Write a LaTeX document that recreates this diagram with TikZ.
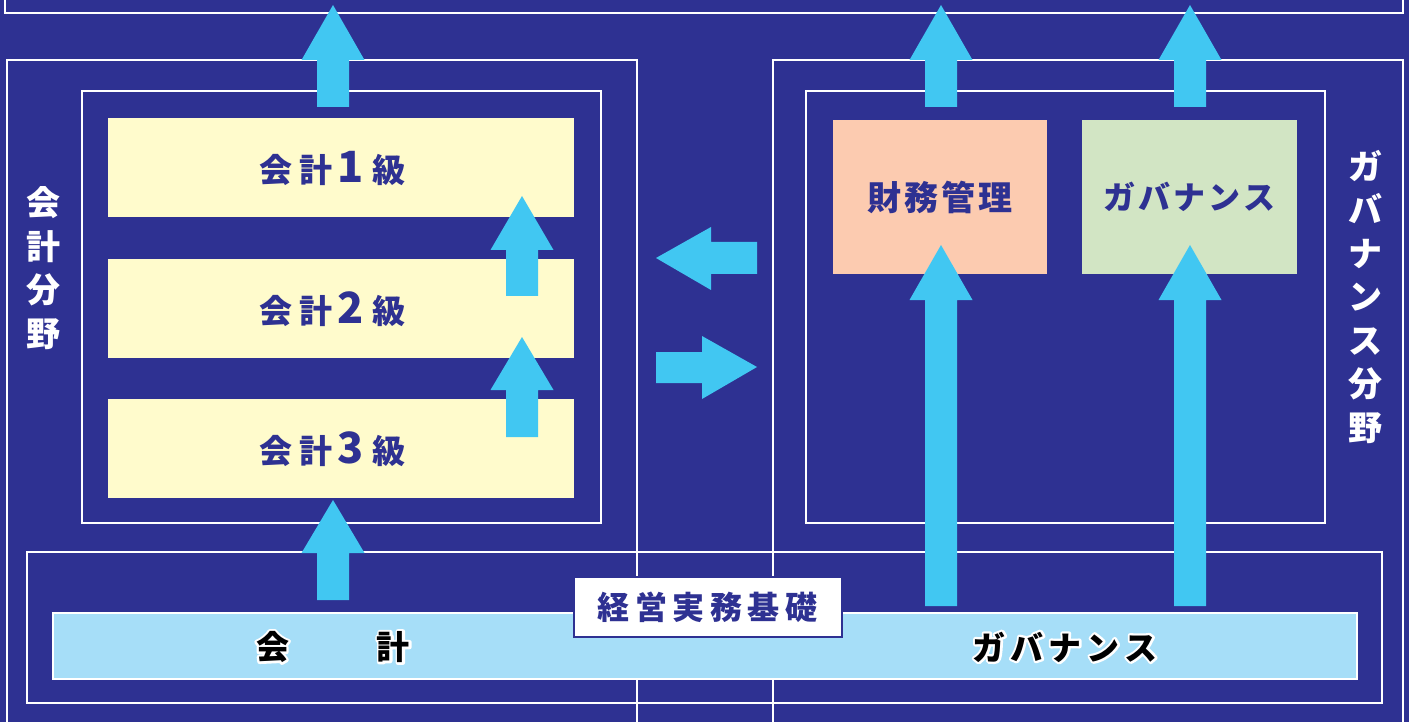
\documentclass[tikz,border=0pt]{standalone}
\usepackage{fontspec}
\newfontfamily\jp{Noto Sans CJK JP}
\definecolor{bgc}{RGB}{46,49,146}
\definecolor{arrc}{RGB}{65,199,242}
\definecolor{yelc}{RGB}{255,251,204}
\definecolor{orac}{RGB}{252,203,176}
\definecolor{grnc}{RGB}{210,229,196}
\definecolor{barc}{RGB}{166,222,248}
\newcommand\gp[1]{\hspace{#1pt}}
\newcommand\dg[1]{{\fontsize{43}{43}\selectfont #1}}
\newcommand\uparr[4]{%
  \fill[arrc] (#1-16,#4) -- (#1-16,#3) -- (#1-31.5,#3) -- (#1,#2) -- (#1+31.5,#3) -- (#1+16,#3) -- (#1+16,#4) -- cycle;}
\tikzset{
  frame/.style={draw=white, line width=2.6pt},
  box/.style={rectangle, inner sep=0pt, outer sep=0pt},
  ytext/.style={text=bgc, font=\jp\bfseries\fontsize{33}{33}\selectfont},
  ctext/.style={text=bgc, font=\jp\bfseries\fontsize{34}{34}\selectfont},
  vtext/.style={text=white, align=center, font=\jp\bfseries\fontsize{34}{43.5}\selectfont},
  btext/.style={font=\jp\bfseries\fontsize{33}{33}\selectfont},
}
\newcommand\outlined[4]{% x, y, name, text
  \node[btext, text=white] at (#1,#2) {\special{pdf:code 2 Tr 4.6 w 1 j 1 J}#4\special{pdf:code 0 Tr}};
  \node[btext, text=black] (#3) at (#1,#2) {#4};}
\begin{document}
\begin{tikzpicture}[x=1pt,y=-1pt]
\useasboundingbox (0,0) rectangle (1409,722);
\fill[bgc] (0,0) rectangle (1409,722);
% frames
\draw[frame] (5,-10) rectangle (1403,13);
\draw[frame] (7,60) rectangle (637,740);
\draw[frame] (773,60) rectangle (1403,740);
\draw[frame] (82,91) rectangle (601,523);
\draw[frame] (806,91) rectangle (1325,523);
\draw[frame] (27,552) rectangle (1382,703);
% yellow boxes
\node[box, fill=yelc, minimum width=466pt, minimum height=99pt] (k1) at (341,167.5) {};
\node[box, fill=yelc, minimum width=466pt, minimum height=99pt] (k2) at (341,308.5) {};
\node[box, fill=yelc, minimum width=466pt, minimum height=99pt] (k3) at (341,448.5) {};
\node[ytext] (t1) at (332.5,168) {会\gp{7}計\gp{5}\dg{1}\gp{8}級};
\node[ytext] (t2) at (332.5,309) {会\gp{7}計\gp{5}\dg{2}\gp{8}級};
\node[ytext] (t3) at (332.5,449) {会\gp{7}計\gp{5}\dg{3}\gp{8}級};
% right boxes
\node[box, fill=orac, minimum width=214pt, minimum height=154pt] (zm) at (940,197) {};
\node[ctext] at (zm) {財\gp{3}務\gp{3}管\gp{3}理};
\node[box, fill=grnc, minimum width=215pt, minimum height=154pt] (gv) at (1189.5,197) {};
\node[ctext, font=\jp\bfseries\fontsize{32}{32}\selectfont] at (gv) {ガ\gp{3}バ\gp{3}ナ\gp{3}ン\gp{3}ス};
% side labels
\node[vtext] (ls) at (44,268) {会\\計\\分\\野};
\node[vtext] (rs) at (1365,297) {ガ\\バ\\ナ\\ン\\ス\\分\\野};
% bottom bar
\node[box, fill=barc, draw=white, line width=2.5pt, minimum width=1304pt, minimum height=66pt] (bar) at (705,646) {};
\outlined{333}{647}{bk}{会\gp{88}計}
\outlined{1065}{647}{bg}{ガ\gp{5}バ\gp{5}ナ\gp{5}ン\gp{5}ス}
% label box
\node[box, fill=white, draw=bgc, line width=2pt, minimum width=268pt, minimum height=60pt] (kj) at (707.5,607) {};
\node[text=bgc, font=\jp\bfseries\fontsize{32}{32}\selectfont] at (kj) {経\gp{5.5}営\gp{5.5}実\gp{5.5}務\gp{5.5}基\gp{5.5}礎};
% arrows
\uparr{333}{5}{60}{107}
\uparr{941}{5}{60}{107}
\uparr{1190}{5}{60}{107}
\uparr{522}{196}{250}{296}
\uparr{522}{337}{390}{437}
\uparr{333}{500}{553}{600}
\uparr{941}{245}{300}{606}
\uparr{1190}{245}{300}{606}
\fill[arrc] (757,242) -- (711,242) -- (711,227) -- (656,258) -- (711,290) -- (711,274) -- (757,274) -- cycle;
\fill[arrc] (656,352) -- (702,352) -- (702,336) -- (757,367) -- (702,399) -- (702,383) -- (656,383) -- cycle;
\end{tikzpicture}
\end{document}
